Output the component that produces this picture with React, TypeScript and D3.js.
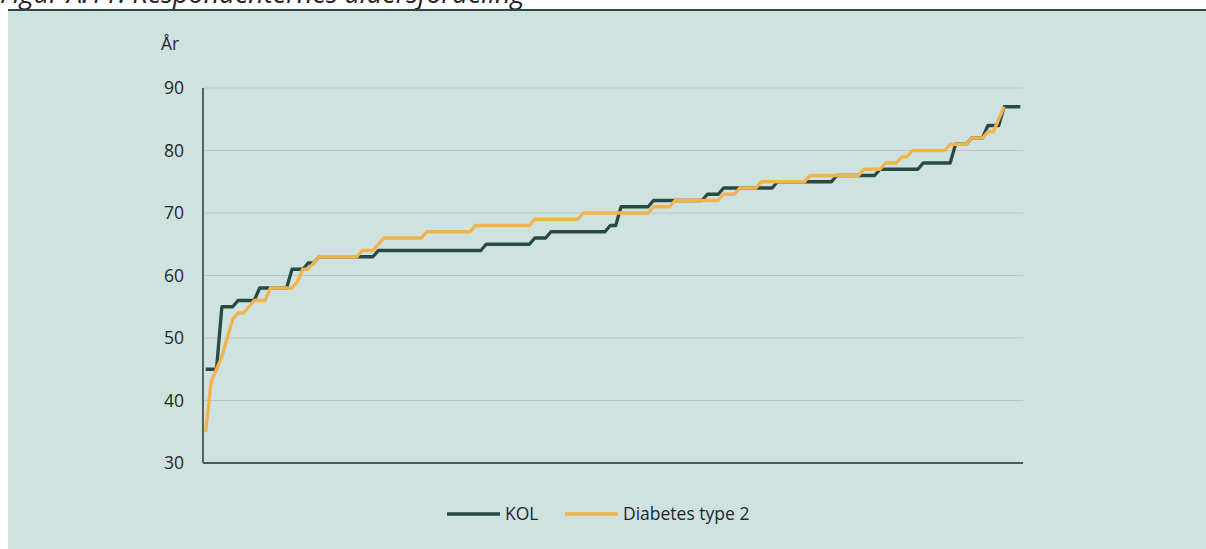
import React from 'react';
import * as d3 from 'd3';

const titleText = 'Figur A.11: Respondenternes aldersfordeling';
const yAxisTitle = 'År';
const yTicks = [30, 40, 50, 60, 70, 80, 90];
const seriesNames = ['KOL', 'Diabetes type 2'];

// KOL (sorted respondent ages)
const kol = [
  45, 45, 45,
  55, 55, 55,
  56, 56, 56, 56,
  58, 58, 58, 58, 58, 58,
  61, 61, 61,
  62, 62,
  63, 63, 63, 63, 63, 63, 63, 63, 63, 63, 63,
  64, 64, 64, 64, 64, 64, 64, 64, 64, 64, 64, 64, 64, 64, 64, 64, 64, 64, 64, 64,
  65, 65, 65, 65, 65, 65, 65, 65, 65,
  66, 66, 66,
  67, 67, 67, 67, 67, 67, 67, 67, 67, 67, 67,
  68, 68,
  71, 71, 71, 71, 71, 71,
  72, 72, 72, 72, 72, 72, 72, 72, 72, 72,
  73, 73, 73,
  74, 74, 74, 74, 74, 74, 74, 74, 74, 74,
  75, 75, 75, 75, 75, 75, 75, 75, 75, 75, 75,
  76, 76, 76, 76, 76, 76, 76, 76,
  77, 77, 77, 77, 77, 77, 77, 77,
  78, 78, 78, 78, 78, 78,
  81, 81, 81,
  82, 82, 82,
  84, 84, 84,
  87, 87, 87, 87,
];

// Diabetes type 2 (sorted respondent ages)
const diabetes = [
  35, 43, 45, 47, 50, 53, 54, 54, 55, 56, 56, 56,
  58, 58, 58, 58, 58,
  59,
  61, 61,
  62,
  63, 63, 63, 63, 63, 63, 63, 63,
  64, 64, 64,
  65,
  66, 66, 66, 66, 66, 66, 66, 66,
  67, 67, 67, 67, 67, 67, 67, 67, 67,
  68, 68, 68, 68, 68, 68, 68, 68, 68, 68, 68,
  69, 69, 69, 69, 69, 69, 69, 69, 69,
  70, 70, 70, 70, 70, 70, 70, 70, 70, 70, 70, 70, 70,
  71, 71, 71, 71,
  72, 72, 72, 72, 72, 72, 72, 72, 72,
  73, 73, 73,
  74, 74, 74, 74,
  75, 75, 75, 75, 75, 75, 75, 75, 75,
  76, 76, 76, 76, 76, 76, 76, 76, 76, 76,
  77, 77, 77, 77,
  78, 78, 78,
  79, 79,
  80, 80, 80, 80, 80, 80, 80,
  81, 81, 81, 81,
  82, 82, 82,
  83, 83,
  85,
  87,
];

const colors = ['#284a44', '#f3b34c'];
const FONT = '"Open Sans", sans-serif';

export default function App() {
  const W = 1206;
  const H = 549;
  const left = 203;
  const right = 1023;
  const top = 88;
  const bottom = 463;

  const n = Math.max(kol.length, diabetes.length);
  const x = d3.scaleBand<number>().domain(d3.range(n)).range([left, right]);
  const y = d3.scaleLinear().domain([30, 90]).range([bottom, top]);
  const cx = (i: number) => (x(i) as number) + x.bandwidth() / 2;
  const line = d3
    .line<number>()
    .x((_, i) => cx(i))
    .y((d) => y(d));

  const series = [kol, diabetes];

  return (
    <svg
      width={W}
      height={H}
      style={{ position: 'absolute', left: 0, top: 0, display: 'block' }}
    >
      <rect x={8} y={10} width={W - 8} height={H - 10} fill="#cee3e0" />
      <text
        x={0}
        y={3}
        fontFamily={FONT}
        fontStyle="italic"
        fontSize={27}
        fill="#222"
      >
        {titleText}
      </text>
      <line x1={8} x2={W} y1={10} y2={10} stroke="#2b4a44" strokeWidth={2} />

      {yTicks
        .filter((t) => t !== 30)
        .map((t) => (
          <line
            key={'g' + t}
            x1={left}
            x2={right}
            y1={y(t)}
            y2={y(t)}
            stroke="#c3c3c3"
            strokeWidth={1.2}
          />
        ))}
      {yTicks.map((t) => (
        <text
          key={'t' + t}
          x={184}
          y={y(t)}
          dy="0.36em"
          textAnchor="end"
          fontFamily={FONT}
          fontSize={17.5}
          fill="#262626"
        >
          {t}
        </text>
      ))}
      <text x={161} y={50} fontFamily={FONT} fontSize={17.5} fill="#262626">
        {yAxisTitle}
      </text>

      <line x1={left} x2={left} y1={top} y2={bottom} stroke="#1a1a1a" strokeWidth={1.3} />
      <line x1={left} x2={right} y1={bottom} y2={bottom} stroke="#555" strokeWidth={2} />

      {series.map((s, k) => (
        <path
          key={'s' + k}
          d={line(s) || ''}
          fill="none"
          stroke={colors[k]}
          strokeWidth={3.3}
          strokeLinejoin="round"
        />
      ))}

      <g fontFamily={FONT} fontSize={17.5} fill="#262626">
        <line x1={447} x2={500} y1={514} y2={514} stroke={colors[0]} strokeWidth={3.3} />
        <text x={505} y={514} dy="0.36em">
          {seriesNames[0]}
        </text>
        <line x1={565} x2={618} y1={514} y2={514} stroke={colors[1]} strokeWidth={3.3} />
        <text x={623} y={514} dy="0.36em">
          {seriesNames[1]}
        </text>
      </g>
    </svg>
  );
}
